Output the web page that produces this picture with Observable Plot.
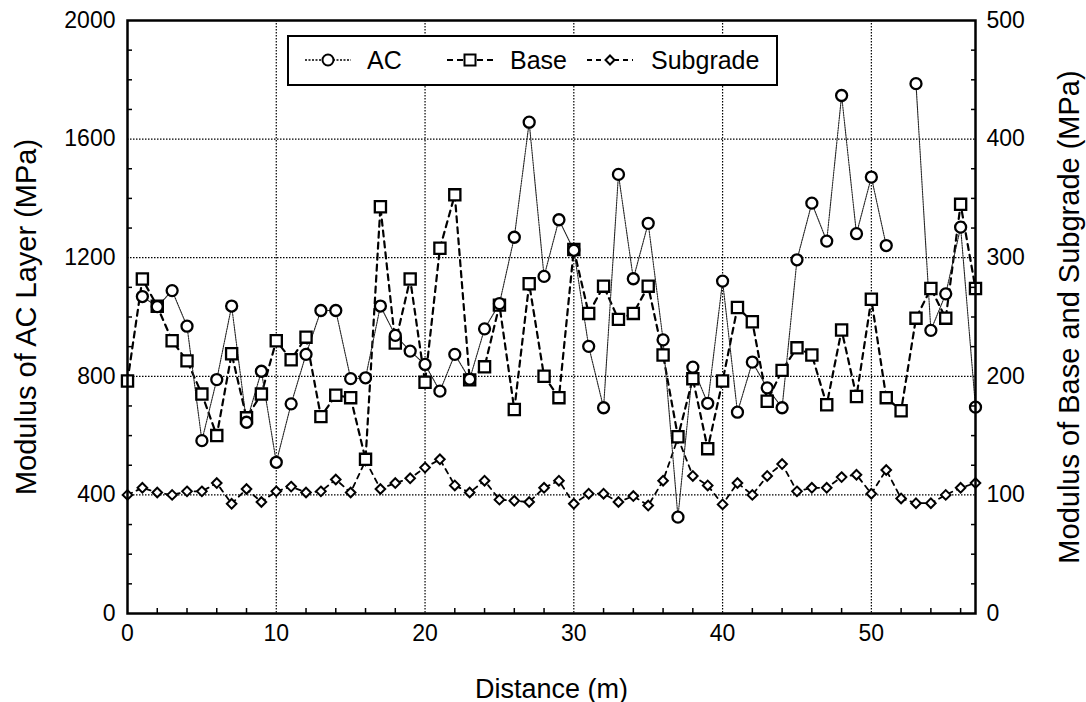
<!DOCTYPE html>
<html>
<head>
<meta charset="utf-8">
<script src="https://cdn.jsdelivr.net/npm/d3@7"></script>
<script src="https://cdn.jsdelivr.net/npm/@observablehq/plot@0.6"></script>
<style>
  html, body { margin: 0; padding: 0; background: #fff; }
  #wrap { position: relative; width: 1086px; height: 702px; font-family: "Liberation Sans", Arial, sans-serif; }
  #legend { position: absolute; left: 287px; top: 35px; width: 487px; height: 47px; border: 2px solid #000; background: #fff; box-sizing: content-box; }
  #legend .item { position: absolute; top: 0; height: 47px; display: flex; align-items: center; font-size: 25px; color: #000; }
</style>
</head>
<body>
<div id="wrap"></div>
<script>
// ---- data ----
const distance = [0,1,2,3,4,5,6,7,8,9,10,11,12,13,14,15,16,17,18,19,20,21,22,23,24,25,26,27,28,29,30,31,32,33,34,35,36,37,38,39,40,41,42,43,44,45,46,47,48,49,50,51,52,53,54,55,56,57];
// AC modulus (MPa), left axis
const acModulus = [null,1069,1035,1089,969,583,789,1037,645,817,510,707,874,1022,1022,792,795,1037,938,885,840,750,874,790,960,1045,1269,1657,1137,1328,1225,901,694,1481,1129,1316,923,325,831,709,1121,679,848,761,694,1193,1384,1256,1747,1281,1472,1241,null,1787,955,1078,1303,696];
// Base modulus (MPa), right axis
const baseModulus = [196,282,259,230,213,185,150,219,165,185,230,214,233,166,184,182,130,343,228,282,195,308,353,197,208,260,172,278,200,182,307,253,276,248,253,276,218,149,198,139,196,258,246,179,205,224,218,176,239,183,265,182,171,249,274,249,345,274];
// Subgrade modulus (MPa), right axis
const subgradeModulus = [100,106,102,100,103,103,110,92.5,105,94,103,107,102,103,113,102,129,105,110,114,123,130,108,102,112,96,95,94,106,112,92.5,101,101,94,99,91,112,148,116,108,92,110,100,116,126,103,106,106,115,117,101,121,97,93,93,100,106,110];

const xTicks = [0,10,20,30,40,50];
const xMinorTicks = [2,4,6,8,12,14,16,18,22,24,26,28,32,34,36,38,42,44,46,48,52,54,56];
const leftTicks = [0,400,800,1200,1600,2000];
const leftMinorTicks = [100,200,300,500,600,700,900,1000,1100,1300,1400,1500,1700,1800,1900];
const rightPerLeft = 4; // left axis 2000 <-> right axis 500

const series = [
  {name: "AC", values: acModulus, scale: 1},
  {name: "Base", values: baseModulus, scale: rightPerLeft},
  {name: "Subgrade", values: subgradeModulus, scale: rightPerLeft}
];
const rows = series.flatMap(s => distance.map((d, i) => ({series: s.name, x: d, v: s.values[i], y: s.values[i] == null ? null : s.values[i] * s.scale})));
const ac = rows.filter(r => r.series === "AC");
const base = rows.filter(r => r.series === "Base");
const sub = rows.filter(r => r.series === "Subgrade");

const diamond = {
  draw(ctx, size) {
    const r = Math.sqrt(size / Math.PI);
    ctx.moveTo(0, -r); ctx.lineTo(r, 0); ctx.lineTo(0, r); ctx.lineTo(-r, 0); ctx.closePath();
  }
};

const font = "Liberation Sans, Arial, sans-serif";
const chart = Plot.plot({
  width: 1086,
  height: 702,
  marginLeft: 127,
  marginRight: 111,
  marginTop: 20,
  marginBottom: 89,
  style: {fontFamily: font, fontSize: "23px", color: "#000", background: "#fff", overflow: "visible"},
  x: {domain: [0, 57], label: null},
  y: {domain: [0, 2000], label: null},
  marks: [
    Plot.gridY(leftTicks.slice(1, -1), {stroke: "#000", strokeOpacity: 1, strokeWidth: 1.2, strokeDasharray: "1.5,1.5"}),
    Plot.gridX(xTicks.slice(1), {stroke: "#000", strokeOpacity: 1, strokeWidth: 1.2, strokeDasharray: "1.5,1.5"}),
    Plot.line(sub, {x: "x", y: "y", stroke: "#000", strokeWidth: 1.8, strokeDasharray: "5,5"}),
    Plot.line(base, {x: "x", y: "y", stroke: "#000", strokeWidth: 2.2, strokeDasharray: "6,5"}),
    Plot.line(ac, {x: "x", y: "y", stroke: "#222", strokeWidth: 1.1, strokeDasharray: "1.5,1"}),
    Plot.dot(sub, {x: "x", y: "y", symbol: diamond, r: 4.8, fill: "#fff", stroke: "#000", strokeWidth: 2}),
    Plot.dot(base, {x: "x", y: "y", symbol: "square", r: 6.3, fill: "#fff", stroke: "#000", strokeWidth: 2.3}),
    Plot.dot(ac, {x: "x", y: "y", symbol: "circle", r: 5.5, fill: "#fff", stroke: "#000", strokeWidth: 2.3}),
    Plot.axisX({ticks: xMinorTicks, tickSize: -5, tickFormat: () => "", label: null, strokeWidth: 1.5}),
    Plot.axisX({ticks: xTicks, tickSize: 0, tickPadding: 11, fontSize: 23, tickFormat: d => String(d), label: "Distance (m)", labelAnchor: "center", labelArrow: "none", labelOffset: 84}),
    Plot.axisY({ticks: leftMinorTicks, tickSize: -5, tickFormat: () => "", label: null, strokeWidth: 1.5}),
    Plot.axisY({ticks: leftTicks, tickSize: 0, tickPadding: 12, fontSize: 23, tickFormat: d => String(d), label: "Modulus of AC Layer (MPa)", labelAnchor: "center", labelArrow: "none", labelOffset: 112}),
    Plot.axisY({anchor: "right", ticks: leftMinorTicks, tickSize: -5, tickFormat: () => "", label: null, strokeWidth: 1.5}),
    Plot.axisY({anchor: "right", ticks: leftTicks, tickSize: 0, tickPadding: 11, fontSize: 23, tickFormat: d => String(d / rightPerLeft), label: "Modulus of Base and Subgrade (MPa)", labelAnchor: "center", labelArrow: "none", labelOffset: 103}),
    Plot.frame({stroke: "#000", strokeWidth: 2.5})
  ]
});
const wrap = document.getElementById("wrap");
wrap.appendChild(chart);
// larger axis titles
chart.querySelectorAll("g[aria-label='x-axis label'] text").forEach(t => t.setAttribute("font-size", "27px"));
chart.querySelectorAll("g[aria-label='y-axis label'] text").forEach(t => t.setAttribute("font-size", "29px"));

// legend
const legend = document.createElement("div");
legend.id = "legend";
const items = [
  {name: "AC", symbol: "circle", dash: "2,1.5", iconLeft: 14, textLeft: 78},
  {name: "Base", symbol: "square", dash: "6,4", iconLeft: 156, textLeft: 221},
  {name: "Subgrade", symbol: "diamond", dash: "5,4", iconLeft: 296, textLeft: 362}
];
for (const it of items) {
  const icon = document.createElementNS("http://www.w3.org/2000/svg", "svg");
  icon.setAttribute("width", 50); icon.setAttribute("height", 20);
  icon.style.position = "absolute"; icon.style.left = it.iconLeft + "px"; icon.style.top = "13px";
  const ln = document.createElementNS("http://www.w3.org/2000/svg", "line");
  ln.setAttribute("x1", 2); ln.setAttribute("x2", 48); ln.setAttribute("y1", 10); ln.setAttribute("y2", 10);
  ln.setAttribute("stroke", "#000"); ln.setAttribute("stroke-width", it.symbol === "circle" ? 1.3 : 2); ln.setAttribute("stroke-dasharray", it.dash);
  icon.appendChild(ln);
  let m;
  if (it.symbol === "circle") {
    m = document.createElementNS("http://www.w3.org/2000/svg", "circle");
    m.setAttribute("cx", 25); m.setAttribute("cy", 10); m.setAttribute("r", 5.5);
  } else if (it.symbol === "square") {
    m = document.createElementNS("http://www.w3.org/2000/svg", "rect");
    m.setAttribute("x", 19.5); m.setAttribute("y", 4.5); m.setAttribute("width", 11); m.setAttribute("height", 11);
  } else {
    m = document.createElementNS("http://www.w3.org/2000/svg", "path");
    m.setAttribute("d", "M25,5.5L29.5,10L25,14.5L20.5,10Z");
  }
  m.setAttribute("fill", "#fff"); m.setAttribute("stroke", "#000"); m.setAttribute("stroke-width", 2);
  icon.appendChild(m);
  legend.appendChild(icon);
  const t = document.createElement("div");
  t.className = "item"; t.style.left = it.textLeft + "px"; t.textContent = it.name;
  legend.appendChild(t);
}
wrap.appendChild(legend);
</script>
</body>
</html>
